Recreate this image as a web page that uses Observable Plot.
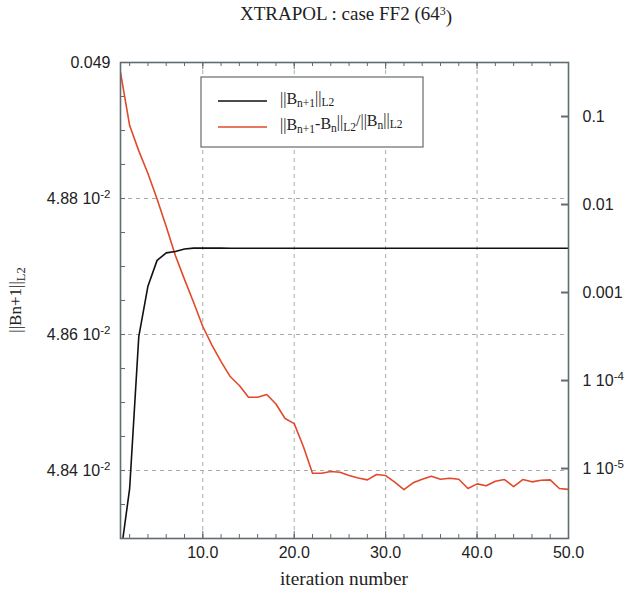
<!DOCTYPE html>
<html>
<head>
<meta charset="utf-8">
<script src="https://cdn.jsdelivr.net/npm/d3@7"></script>
<script src="https://cdn.jsdelivr.net/npm/@observablehq/plot@0.6"></script>
<style>
  html, body { margin: 0; padding: 0; background: white; }
  #chart { width: 626px; height: 597px; }
</style>
</head>
<body>
<div id="chart"></div>
<script>
// ---------- data ----------
const iterations = d3.range(1, 51);
// ||B_{n+1}||_L2 (left, linear axis)
const normB = [
  0.048274, 0.0483735, 0.048597, 0.048671, 0.048709, 0.048720, 0.048722, 0.0487257, 0.048727, 0.048727,
  0.048727, 0.048727, 0.0487268, 0.0487268, 0.0487268, 0.0487268, 0.0487268, 0.0487268, 0.0487268, 0.0487268,
  0.0487268, 0.0487268, 0.0487268, 0.0487268, 0.0487268, 0.0487268, 0.0487268, 0.0487268, 0.0487268, 0.0487268,
  0.0487268, 0.0487268, 0.0487268, 0.0487268, 0.0487268, 0.0487268, 0.0487268, 0.0487268, 0.0487268, 0.0487268,
  0.0487268, 0.0487268, 0.0487268, 0.0487268, 0.0487268, 0.0487268, 0.0487268, 0.0487268, 0.0487268, 0.0487268
];
// ||B_{n+1}-B_n||/||B_n|| (right, log axis)
const relDiff = [
  0.318, 0.079, 0.0407, 0.0225, 0.01155, 0.00562, 0.00263, 0.00141, 7.69e-4, 4.11e-4,
  2.53e-4, 1.64e-4, 1.11e-4, 8.77e-5, 6.46e-5, 6.46e-5, 6.93e-5, 5.41e-5, 3.70e-5, 3.24e-5,
  1.78e-5, 8.85e-6, 8.85e-6, 9.24e-6, 9.08e-6, 8.32e-6, 7.80e-6, 7.44e-6, 8.55e-6, 8.32e-6,
  6.99e-6, 5.77e-6, 6.88e-6, 7.55e-6, 8.18e-6, 7.55e-6, 7.76e-6, 7.55e-6, 5.93e-6, 6.70e-6,
  6.36e-6, 7.18e-6, 7.50e-6, 6.24e-6, 7.50e-6, 7.06e-6, 7.36e-6, 7.44e-6, 5.93e-6, 5.79e-6
];

const xTicks = [10, 20, 30, 40, 50];
const xTickLabels = ["10.0", "20.0", "30.0", "40.0", "50.0"];
const leftTicks = [0.0484, 0.0486, 0.0488, 0.049];
const leftTickLabels = ["4.84 10^-2", "4.86 10^-2", "4.88 10^-2", "0.049"];
const rightTicks = [0.1, 0.01, 0.001, 1e-4, 1e-5];
const rightTickLabels = ["0.1", "0.01", "0.001", "1 10^-4", "1 10^-5"];

const leftDomain = [0.0483, 0.049];
const rightLogDomain = [-5.795, -0.386]; // log10 of right axis bottom/top

// map a right-axis (log) value into left-axis units so both share one y scale
const toLeft = v => leftDomain[0] + (Math.log10(v) - rightLogDomain[0]) /
  (rightLogDomain[1] - rightLogDomain[0]) * (leftDomain[1] - leftDomain[0]);

const black = iterations.map((x, i) => ({x, y: normB[i]}));
const red = iterations.map((x, i) => ({x, y: toLeft(relDiff[i])}));

const xMinor = d3.range(2, 51, 2);
const leftMinor = d3.range(0, 15).map(i => 0.0483 + i * 0.00005).filter(v => v > 0.04831);

const W = 626, H = 597, mL = 120, mR = 58, mT = 62, mB = 59;
const fw = W - mL - mR, fh = H - mT - mB;
const frameColor = "#626b70";
const redColor = "#e2492b";

const plot = Plot.plot({
  width: W, height: H,
  marginLeft: mL, marginRight: mR, marginTop: mT, marginBottom: mB,
  x: {domain: [1, 50]},
  y: {domain: leftDomain},
  style: {fontFamily: "'Liberation Sans', Arial, sans-serif", fontSize: "16px", color: "#222", background: "white"},
  marks: [
    Plot.gridX([10, 20, 30, 40], {stroke: "#aaa", strokeOpacity: 1, strokeDasharray: "4,4"}),
    Plot.gridY([0.0484, 0.0486, 0.0488], {stroke: "#aaa", strokeOpacity: 1, strokeDasharray: "4,4"}),
    // inward ticks
    Plot.tickX(xMinor, {x: d => d, insetTop: fh - 4, stroke: frameColor}),
    Plot.tickX(xMinor, {x: d => d, insetBottom: fh - 4, stroke: frameColor}),
    Plot.tickX(xTicks, {x: d => d, insetTop: fh - 7, stroke: frameColor}),
    Plot.tickX(xTicks, {x: d => d, insetBottom: fh - 7, stroke: frameColor}),
    Plot.tickY(leftMinor, {y: d => d, insetRight: fw - 5, stroke: frameColor}),
    Plot.tickY(rightTicks, {y: d => toLeft(d), insetLeft: fw - 7, stroke: frameColor, strokeWidth: 2}),
    Plot.axisX(xTicks, {tickSize: 0, tickPadding: 8, tickFormat: (d, i) => xTickLabels[i], label: null, fontSize: 16, fill: "#222"}),
    Plot.axisY(leftTicks, {anchor: "left", tickSize: 0, tickPadding: 10, tickFormat: (d, i) => leftTickLabels[i], label: null, fontSize: 16, fill: "#222"}),
    Plot.axisY(rightTicks.map(toLeft), {anchor: "right", tickSize: 0, tickPadding: 14, tickFormat: (d, i) => rightTickLabels[i], label: null, fontSize: 16, fill: "#222"}),
    Plot.line(red, {x: "x", y: "y", stroke: redColor, strokeWidth: 1.6, clip: true}),
    Plot.line(black, {x: "x", y: "y", stroke: "#111", strokeWidth: 1.6, clip: true}),
    Plot.frame({stroke: frameColor, strokeWidth: 1.6})
  ]
});

document.getElementById("chart").appendChild(plot);
const svg = d3.select(plot);

// superscripts in tick labels
svg.selectAll('g[aria-label="y-axis tick label"] text').each(function () {
  const t = d3.select(this);
  const s = t.text();
  if (s.includes("^")) {
    const [a, b] = s.split("^");
    t.text(a);
    t.append("tspan").attr("dy", "-0.45em").attr("font-size", "0.72em").text(b);
  }
});

const serif = "'Liberation Serif', 'Times New Roman', serif";

// title
const title = svg.append("text")
  .attr("x", 346).attr("y", 20).attr("text-anchor", "middle")
  .attr("font-family", serif).attr("font-size", 19).attr("fill", "#222");
title.append("tspan").text("XTRAPOL : case FF2 (64");
title.append("tspan").attr("dy", "-0.45em").attr("font-size", 12).text("3");
title.append("tspan").attr("dy", "0.45em").text(")");

// x label
svg.append("text")
  .attr("x", mL + fw / 2).attr("y", 585).attr("text-anchor", "middle")
  .attr("font-family", serif).attr("font-size", 19.3).attr("fill", "#222")
  .text("iteration number");

// y label
const yl = svg.append("text")
  .attr("transform", "translate(21,300) rotate(-90)").attr("text-anchor", "middle")
  .attr("font-family", serif).attr("font-size", 17).attr("fill", "#222");
yl.append("tspan").text("||Bn+1||");
yl.append("tspan").attr("dy", "0.3em").attr("font-size", 12.5).text("L2");

// legend
const lg = svg.append("g");
lg.append("rect").attr("x", 201).attr("y", 77).attr("width", 222).attr("height", 70)
  .attr("fill", "white").attr("stroke", frameColor).attr("stroke-width", 1.2);
const entries = [
  {color: "#111", y: 101, parts: [["||B"], ["n+1", "sub"], ["||"], ["L2", "sub"]]},
  {color: redColor, y: 127, parts: [["||B"], ["n+1", "sub"], ["-B"], ["n", "sub"], ["||"], ["L2", "sub"], ["/||B"], ["n", "sub"], ["||"], ["L2", "sub"]]}
];
entries.forEach(e => {
  lg.append("line").attr("x1", 218).attr("x2", 267).attr("y1", e.y).attr("y2", e.y)
    .attr("stroke", e.color).attr("stroke-width", 1.6);
  const t = lg.append("text").attr("x", 280).attr("y", e.y + 3).attr("text-anchor", "start")
    .attr("font-family", serif).attr("font-size", 16).attr("fill", "#222");
  let sub = false;
  e.parts.forEach(([s, k]) => {
    const span = t.append("tspan").text(s);
    if (k === "sub" && !sub) { span.attr("dy", "0.3em").attr("font-size", 11.5); sub = true; }
    else if (k === "sub") { span.attr("font-size", 11.5); }
    else if (sub) { span.attr("dy", "-0.3em"); sub = false; }
  });
});
</script>
</body>
</html>
